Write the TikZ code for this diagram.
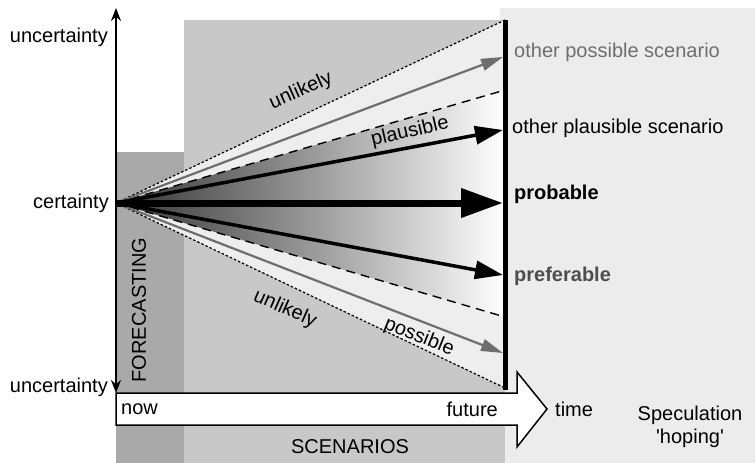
\documentclass[tikz,border=0pt]{standalone}
\usepackage{fontspec}
\setmainfont{Liberation Sans}
\usetikzlibrary{arrows.meta}
\definecolor{forecastgray}{HTML}{A9A9A9}
\definecolor{scengray}{HTML}{C8C8C8}
\definecolor{specgray}{HTML}{ECECEC}
\definecolor{bandgray}{HTML}{EEEEEE}
\definecolor{possgray}{HTML}{6E6E6E}
\definecolor{preftext}{HTML}{4D4D4D}
\tikzset{
  lbl/.style={font=\fontsize{20pt}{23pt}\selectfont, inner sep=0pt},
  dotline/.style={line width=1.2pt, dash pattern=on 2.5pt off 2pt},
  dashline/.style={line width=1.4pt, dash pattern=on 9pt off 6pt},
  bigarrow/.style={line width=7pt, -{Triangle[length=42pt,width=28pt]}},
  midarrow/.style={line width=3.5pt, -{Triangle[length=28pt,width=18pt]}},
  smallarrow/.style={line width=2.2pt, possgray, -{Triangle[length=22pt,width=12pt]}},
}
\begin{document}
\begin{tikzpicture}[x=1pt,y=-1pt]
  \useasboundingbox (0,0) rectangle (755,463);
  % regions
  \fill[specgray] (500,8) rectangle (755,463);
  \fill[scengray] (184,20) rectangle (505,463);
  \fill[forecastgray] (116,152) rectangle (184,463);

  % origin and end points on the horizon bar
  \coordinate (o) at (116,203);
  \coordinate (dotTop) at (505,20);
  \coordinate (possTop) at (503,57);
  \coordinate (dashTop) at (505,90);
  \coordinate (plausTop) at (503,130);
  \coordinate (prob) at (503,203);
  \coordinate (pref) at (503,275);
  \coordinate (dashBot) at (505,317);
  \coordinate (possBot) at (503,353);
  \coordinate (dotBot) at (505,388);
  \coordinate (barTop) at (505,20);
  \coordinate (barBot) at (505,390);

  % cone of futures
  \fill[bandgray] (o) -- (dotTop) -- (dotBot) -- cycle;
  \shade[left color=black!80, right color=white] (o) -- (dashTop) -- (dashBot) -- cycle;

  \draw[dotline] (o) -- (dotTop);
  \draw[dotline] (o) -- (dotBot);
  \draw[dashline] (o) -- (dashTop);
  \draw[dashline] (o) -- (dashBot);
  \draw[smallarrow] (o) -- (possTop);
  \draw[smallarrow] (o) -- (possBot);
  \draw[midarrow] (o) -- (plausTop);
  \draw[midarrow] (o) -- (pref);
  \draw[bigarrow] (o) -- (prob);

  \draw[line width=5pt] (barTop) -- (barBot);

  % uncertainty axis
  \coordinate (axTop) at (116,8);
  \coordinate (axBot) at (116,393);
  \draw[line width=1.8pt, {Stealth[length=13pt,width=10pt]}-{Stealth[length=13pt,width=10pt]}] (axBot) -- (axTop);

  % time arrow
  \draw[line width=1.5pt, fill=white] (116,393) -- (517,393) -- (517,372) -- (547,409)
    -- (517,447) -- (517,425) -- (116,425) -- cycle;

  % labels
  \node[lbl, anchor=east] (uTop) at (108,37) {uncertainty};
  \node[lbl, anchor=east] (cert) at (109,203) {certainty};
  \node[lbl, anchor=east] (uBot) at (108,387) {uncertainty};
  \node[lbl, rotate=90] (fc) at (139,310) {FORECASTING};
  \node[lbl, anchor=west] (now) at (121,409) {now};
  \node[lbl, anchor=east] (fut) at (498,409) {future};
  \node[lbl, anchor=west] (time) at (555,409) {time};
  \node[lbl, align=center] (spec) at (690,427) {Speculation\\\textquotesingle hoping\textquotesingle};
  \node[lbl] (scen) at (350,447) {SCENARIOS};

  \node[lbl, anchor=west, text=possgray] (lPoss) at (514,52) {other possible scenario};
  \node[lbl, anchor=west] (lPlaus) at (512,128) {other plausible scenario};
  \node[lbl, anchor=west, font=\fontsize{20pt}{23pt}\selectfont\bfseries] (lProb) at (514,194) {probable};
  \node[lbl, anchor=west, text=preftext, font=\fontsize{20pt}{23pt}\selectfont\bfseries] (lPref) at (514,276) {preferable};

  \node[lbl, rotate=24] (unlTop) at (301,91) {unlikely};
  \node[lbl, rotate=13] (plaus) at (410,132) {plausible};
  \node[lbl, rotate=-24] (unlBot) at (285,309) {unlikely};
  \node[lbl, rotate=-22] (possL) at (419,337) {possible};
\end{tikzpicture}
\end{document}
